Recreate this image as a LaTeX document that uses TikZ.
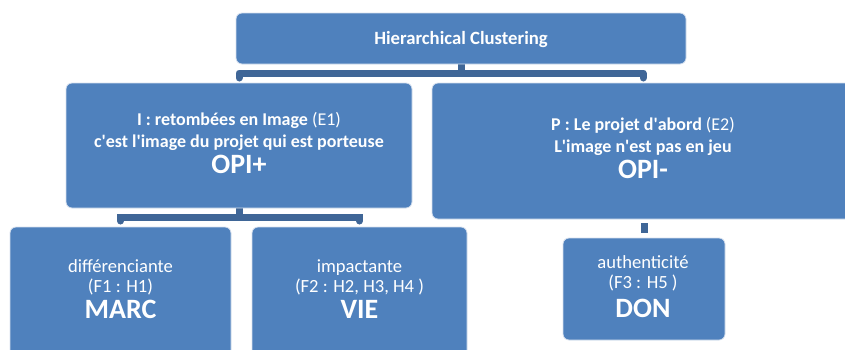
\documentclass[tikz,border=0pt]{standalone}
\usepackage{fontspec}
\setmainfont{Carlito}
\definecolor{boxblue}{HTML}{4F81BD}
\definecolor{connblue}{HTML}{3F6697}
\definecolor{edgelight}{HTML}{D6E0EE}
\newcommand{\sq}{\textquotesingle}
\begin{document}
\begin{tikzpicture}[x=1pt,y=-1pt,
  box/.style={draw=edgelight, line width=0.8pt, fill=boxblue, rounded corners=6pt, inner sep=0pt},
  conn/.style={draw=connblue, line width=7pt},
  txt/.style={text=white, inner sep=0pt, anchor=base},
  reg/.style={txt, font=\fontsize{18.6}{20}\selectfont},
  bld/.style={txt, font=\bfseries\fontsize{18}{20}\selectfont},
  big/.style={txt, font=\bfseries\fontsize{28}{30}\selectfont}]
\useasboundingbox (0,0) rectangle (845,349);
% connectors (drawn under the boxes)
\draw[conn, line cap=butt] (461,64) -- (461,73);
\draw[conn, line join=round, line cap=round] (239,78) -- (239,73) -- (643,73) -- (643,78);
\draw[conn] (239,208) -- (239,217);
\draw[conn, line cap=round] (120.5,221) -- (120.5,217) -- (359.5,217) -- (359.5,221);
% boxes
\node[box, minimum width=450pt, minimum height=51pt] (top) at (461,38.5) {};
\node[box, minimum width=346pt, minimum height=125pt] (e1) at (239,145.5) {};
\node[box, minimum width=424pt, minimum height=136pt] (e2) at (644,151) {};
\node[box, minimum width=221pt, minimum height=130pt] (f1) at (120.5,292) {};
\node[box, minimum width=215pt, minimum height=130pt] (f2) at (359.5,292) {};
\node[box, minimum width=162pt, minimum height=102pt] (f3) at (644,289) {};
\draw[conn, shorten <=4pt, shorten >=5pt] (e2.south -| f3.north) -- (f3.north);
% texts
\node[bld, font=\bfseries\fontsize{18.7}{20}\selectfont] (ttop) at (461,44) {Hierarchical Clustering};
\node[bld] (e1a) at (239,125) {I : retombées en Image \mdseries(E1)};
\node[bld] (e1b) at (239,147) {c\sq est l\sq image du projet qui est porteuse};
\node[big] (e1c) at (239,173) {OPI+};
\node[bld] (e2a) at (643,130) {P : Le projet d\sq abord \mdseries(E2)};
\node[bld] (e2b) at (643,152) {L\sq image n\sq est pas en jeu};
\node[big] (e2c) at (643,178) {OPI-};
\node[reg] (f1a) at (120.5,272) {différenciante};
\node[reg] (f1b) at (120.5,292) {(F1 : H1)};
\node[big] (f1c) at (120.5,318) {MARC};
\node[reg] (f2a) at (359.5,272) {impactante};
\node[reg] (f2b) at (359.5,292) {(F2 : H2, H3, H4 )};
\node[big] (f2c) at (359.5,318) {VIE};
\node[reg] (f3a) at (643,268) {authenticité};
\node[reg] (f3b) at (643,288) {(F3 : H5 )};
\node[big] (f3c) at (643,317) {DON};
\end{tikzpicture}
\end{document}
